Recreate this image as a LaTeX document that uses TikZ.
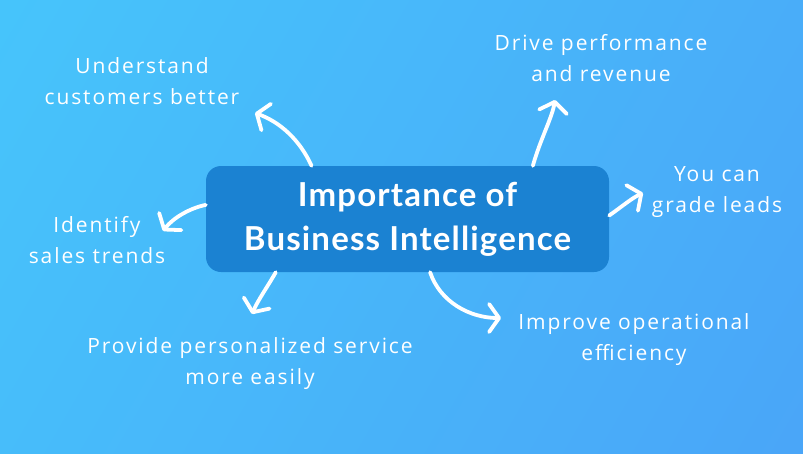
\documentclass[tikz,border=0pt]{standalone}
\usepackage{fontspec}
\setmainfont[LetterSpace=9]{Open Sans}
\newfontfamily\titlefont[LetterSpace=3.5]{Lato}
\usetikzlibrary{arrows.meta}
\definecolor{bgleft}{RGB}{70,200,251}
\definecolor{bgright}{RGB}{74,162,248}
\definecolor{boxblue}{RGB}{27,130,210}

\begin{document}
\begin{tikzpicture}[x=1pt, y=-1pt,
  every node/.style={text=white, align=center, inner sep=0pt, font=\fontsize{21}{31}\selectfont},
  topic/.style={fill=boxblue, rounded corners=15pt, minimum width=403pt, minimum height=106pt,
    font=\titlefont\bfseries\fontsize{33}{44}\selectfont},
  flow/.style={white, line width=3.8pt, line cap=round,
    -{Straight Barb[length=10pt, width=28pt, line cap=round, line join=round]}}]
  \useasboundingbox (0,0) rectangle (803,453);
  \shade[left color=bgleft, right color=bgright, shading angle=60] (-200,-300) rectangle (1000,750);

  % centre
  \node (imp) [topic] at (407.5,219) {Importance of\\Business Intelligence};

  % labels
  \node (cust) at (142,81) {Understand\\customers better};
  \node (drive) at (601,58) {Drive performance\\and revenue};
  \node (grade) at (717,192) {You can\\grade leads};
  \node (trend) at (97,240) {Identify\\sales trends};
  \node (serv) at (250,364) {Provide personalized service\\more easily};
  \node (oper) at (634,340) {Improve operational\\efficiency};

  % arrow tips
  \coordinate (tcust) at (255,113);
  \coordinate (tdrive) at (555,100);
  \coordinate (tgrade) at (643,193);
  \coordinate (ttrend) at (163,231);
  \coordinate (tserv) at (252,314);
  \coordinate (toper) at (501,318);

  \draw [flow] (imp.151.5) .. controls (300,140) and (280,122) .. (tcust);
  \draw [flow] (imp.23.9) .. controls (540,140) and (552,118) .. (tdrive);
  \draw [flow] (imp.1.1) .. controls (620,208) and (632,198) .. (tgrade);
  \draw [flow] (imp.176) .. controls (190,208) and (173,218) .. (ttrend);
  \draw [flow] (imp.202) .. controls (268,286) and (258,300) .. (tserv);
  \draw [flow] (imp.293) .. controls (440,302) and (470,318) .. (toper);
\end{tikzpicture}
\end{document}
